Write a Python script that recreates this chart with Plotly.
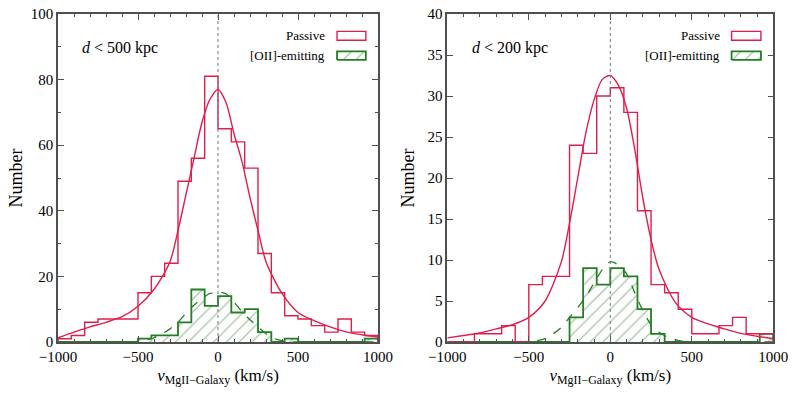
import plotly.graph_objects as go
from plotly.subplots import make_subplots

# ---------------- data ----------------
bin_edges = [-1000 + i * 2000 / 24 for i in range(25)]

passive_500 = [1, 2, 6, 7, 7, 7, 15, 20, 24, 49, 56, 81, 65, 61, 53, 27, 15, 8, 7, 5, 3, 7, 3, 2]
oii_500 = [0, 0, 0, 0, 0, 0, 1, 2, 2, 6, 16, 11, 14, 9, 10, 3, 0, 1, 0, 0, 0, 0, 0, 1]

passive_200 = [0, 0, 1, 1, 2, 0, 7, 8, 8, 24, 23, 30, 31, 28, 16, 7, 6, 4, 1, 1, 2, 3, 1, 1]
oii_200 = [0, 0, 0, 0, 0, 0, 0, 0, 0, 3, 9, 7, 9, 8, 4, 1, 0, 0, 0, 0, 0, 0, 0, 1]

# fitted curves
fit_v = [-1000, -900, -800, -700, -600, -500, -400, -300, -250, -200, -150, -100, -50,
         0, 50, 100, 150, 200, 250, 300, 400, 500, 600, 700, 800, 900, 1000]
fit_passive_500 = [1.3, 3.0, 4.6, 6.0, 7.7, 10.9, 16.0, 24.5, 34, 45, 56, 67, 74,
                   77, 73, 63.5, 55, 44, 34, 24.5, 14.8, 9.0, 6.5, 4.6, 3.1, 2.2, 1.5]
fit_passive_200 = [0.5, 0.8, 1.1, 1.6, 2.1, 3.0, 5.0, 9.8, 14.5, 20, 25.5, 29.5, 32,
                   32.5, 31.3, 28.5, 23.5, 17.5, 12.5, 8.8, 4.8, 3.0, 2.2, 1.6, 1.05, 0.7, 0.4]

fitg_v = [-1000, -700, -550, -500, -450, -400, -350, -300, -250, -200, -150, -100, -50,
          0, 50, 100, 150, 200, 250, 300, 350, 400, 450, 500, 650, 1000]
fit_oii_500 = [0, 0, 0.05, 0.2, 0.6, 1.3, 2.5, 4.0, 6.0, 8.8, 11.2, 13.3, 14.8,
               15.3, 14.7, 12.2, 9.2, 6.8, 4.6, 2.5, 1.1, 0.4, 0.1, 0.03, 0, 0]
fit_oii_200 = [0, 0, 0, 0.03, 0.15, 0.4, 1.0, 1.8, 3.0, 4.2, 5.5, 7.2, 8.8,
               9.8, 9.4, 8.3, 6.0, 3.8, 2.1, 1.2, 0.6, 0.25, 0.08, 0.02, 0, 0]

panel_labels = ["<i>d</i> < 500 kpc", "<i>d</i> < 200 kpc"]
y_ranges = [[0, 100], [0, 40]]
y_dticks = [20, 5]
y_minor = [10, None]
legend_names = ["Passive", "[OII]-emitting"]

# ---------------- style ----------------
RED = "#de1f4d"
GREEN = "#227f22"
GREEN_HATCH = "#4a904a"
FRAME = "#505050"
FONT = "Liberation Serif"

W, H = 796, 396


def step_xy(edges, counts):
    xs, ys = [edges[0]], [0]
    for i, c in enumerate(counts):
        xs += [edges[i], edges[i + 1]]
        ys += [c, c]
    xs.append(edges[-1])
    ys.append(0)
    return xs, ys


HATCH = dict(shape="/", fgcolor=GREEN_HATCH, bgcolor="rgba(255,255,255,0)", size=9, solidity=0.14)

fig = make_subplots(rows=1, cols=2)

panels = [
    (passive_500, oii_500, fit_passive_500, fit_oii_500),
    (passive_200, oii_200, fit_passive_200, fit_oii_200),
]

for k, (pas, oii, fpas, foii) in enumerate(panels):
    col = k + 1
    gx, gy = step_xy(bin_edges, oii)
    fig.add_trace(go.Scatter(
        x=gx, y=gy, mode="lines", fill="tozeroy",
        line=dict(color=GREEN, width=1.8),
        fillcolor="rgba(0,0,0,0)", fillpattern=HATCH,
        showlegend=False, hoverinfo="skip"), row=1, col=col)
    fig.add_trace(go.Scatter(
        x=fitg_v, y=foii, mode="lines",
        line=dict(color=GREEN, width=1.3, dash="dash", shape="spline", smoothing=0.6),
        showlegend=False, hoverinfo="skip"), row=1, col=col)
    px_, py_ = step_xy(bin_edges, pas)
    fig.add_trace(go.Scatter(
        x=px_, y=py_, mode="lines", line=dict(color=RED, width=1.4),
        showlegend=False, hoverinfo="skip"), row=1, col=col)
    fig.add_trace(go.Scatter(
        x=fit_v, y=fpas, mode="lines", line=dict(color=RED, width=1.4, shape="spline", smoothing=0.8),
        showlegend=False, hoverinfo="skip"), row=1, col=col)

    # legend swatches (positioned in axis-domain fractions)
    yr = y_ranges[k]

    def fx(f):
        return -1000 + f * 2000

    def fy(f, yr=yr):
        return yr[0] + f * (yr[1] - yr[0])

    xa = "x" if k == 0 else "x2"
    ya = "y" if k == 0 else "y2"
    fig.add_shape(type="rect", xref=xa + " domain", yref=ya + " domain",
                  x0=0.872, x1=0.962, y0=0.920, y1=0.947,
                  line=dict(color=RED, width=1.4), fillcolor="rgba(0,0,0,0)")
    sx = [fx(0.872), fx(0.962), fx(0.962), fx(0.872), fx(0.872)]
    sy = [fy(0.860), fy(0.860), fy(0.886), fy(0.886), fy(0.860)]
    fig.add_trace(go.Scatter(
        x=sx, y=sy, mode="lines", fill="toself",
        line=dict(color=GREEN, width=1.8), fillcolor="rgba(0,0,0,0)", fillpattern=HATCH,
        showlegend=False, hoverinfo="skip"), row=1, col=col)
    fig.add_annotation(xref=xa + " domain", yref=ya + " domain", x=0.842, y=0.933,
                       text=legend_names[0], showarrow=False, xanchor="right", yanchor="middle",
                       font=dict(family=FONT, size=13, color="black"))
    fig.add_annotation(xref=xa + " domain", yref=ya + " domain", x=0.842, y=0.873,
                       text=legend_names[1], showarrow=False, xanchor="right", yanchor="middle",
                       font=dict(family=FONT, size=13, color="black"))
    fig.add_annotation(xref=xa + " domain", yref=ya + " domain", x=0.07, y=0.895,
                       text=panel_labels[k], showarrow=False, xanchor="left", yanchor="middle",
                       font=dict(family=FONT, size=16, color="black"))
    # dotted zero line
    fig.add_shape(type="line", xref=xa, yref=ya + " domain", x0=0, x1=0, y0=0, y1=1,
                  line=dict(color="#777777", width=1, dash="dot"))


def xd(a, b):
    return [a / W, b / W]


xdoms = [xd(58, 378), xd(447.3, 773.3)]
ydom = [1 - 342 / H, 1 - 14 / H]
title_standoff = [3, 8]

for k in range(2):
    xn = "xaxis" if k == 0 else "xaxis2"
    yn = "yaxis" if k == 0 else "yaxis2"
    fig.layout[xn].update(
        domain=xdoms[k], range=[-1000, 1000], dtick=500, tick0=-1000,
        showline=True, linecolor=FRAME, linewidth=1.5, mirror="ticks",
        ticks="inside", ticklen=6, tickcolor=FRAME, tickwidth=1.2,
        minor=dict(dtick=100, ticks="inside", ticklen=3, tickcolor=FRAME, tickwidth=1),
        showgrid=False, zeroline=False, automargin=False, ticklabeloverflow="allow",
        tickfont=dict(family=FONT, size=15, color="black"),
        title=dict(text="<i>v</i><sub>MgII\u2212Galaxy</sub> (km/s)",
                   font=dict(family=FONT, size=17, color="black"), standoff=5),
    )
    yminor = dict(dtick=y_minor[k], ticks="inside", ticklen=3, tickcolor=FRAME, tickwidth=1) \
        if y_minor[k] else dict(ticks="")
    fig.layout[yn].update(
        domain=ydom, range=y_ranges[k], dtick=y_dticks[k],
        showline=True, linecolor=FRAME, linewidth=1.5, mirror="ticks",
        ticks="inside", ticklen=6, tickcolor=FRAME, tickwidth=1.2,
        minor=yminor,
        showgrid=False, zeroline=False, automargin=False, ticklabeloverflow="allow",
        tickfont=dict(family=FONT, size=15, color="black"),
        title=dict(text="Number", font=dict(family=FONT, size=18, color="black"),
                   standoff=title_standoff[k]),
    )

fig.update_layout(
    width=W, height=H,
    margin=dict(l=0, r=0, t=0, b=0),
    paper_bgcolor="white", plot_bgcolor="white",
    showlegend=False,
)

fig.write_html("out.html", config={"displayModeBar": False},
               post_script=["document.body.style.margin='0';document.body.style.overflow='hidden';"])
